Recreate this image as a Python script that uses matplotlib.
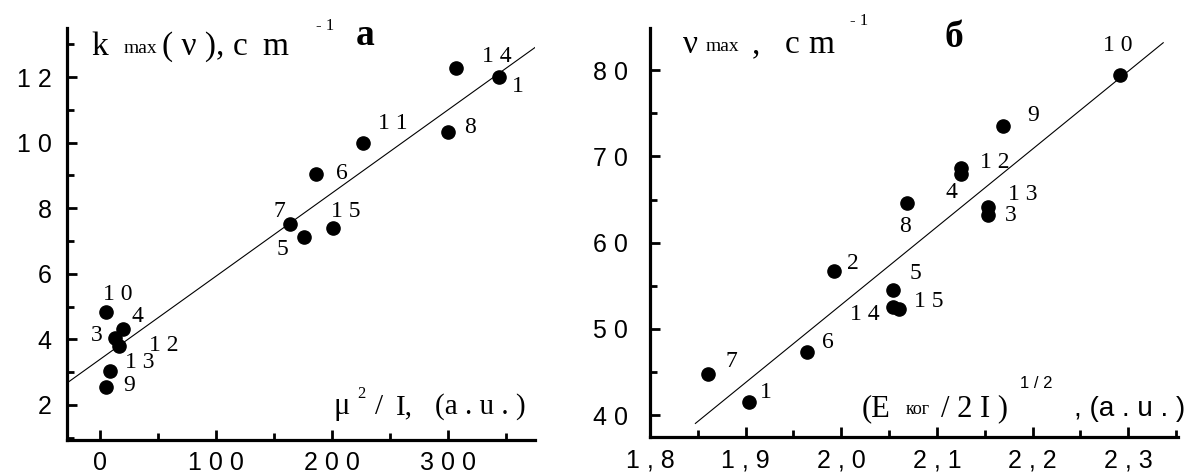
import matplotlib
matplotlib.use('Agg')
import matplotlib.pyplot as plt
from matplotlib.ticker import FixedLocator
import numpy as np

# panel a: k_max vs mu^2/I
a_ids = ['10', '4', '3', '12', '13', '9', '5', '7', '15', '6', '11', '8', '14', '1']
a_x = [6, 20, 13, 17, 9, 6, 176, 164, 201, 186, 227, 300, 307, 344]
a_y = [4.84, 4.32, 4.05, 3.80, 3.04, 2.55, 7.13, 7.53, 7.40, 9.05, 10.0, 10.34, 12.29, 12.0]
a_fit = (0.0254, 3.38)          # slope, intercept
a_fit_x = [-28, 377]

# panel б: nu_max vs (E/2I)^1/2
b_ids = ['7', '1', '6', '2', '14', '5', '15', '8', '4', '12', '13', '3', '9', '10']
b_x = [1.861, 1.904, 1.964, 1.992, 2.054, 2.054, 2.060, 2.069, 2.125, 2.125, 2.153, 2.153, 2.169, 2.291]
b_y = [44.75, 41.5, 47.3, 56.7, 52.5, 54.5, 52.3, 64.6, 68.0, 68.6, 64.1, 63.2, 73.5, 79.5]
b_fit = (90.3, -127.8)
b_fit_x = [1.847, 2.337]

# label offsets (pixels, right/up)
a_off = {'10': (11, 17), '4': (15, 12), '3': (-18, 2), '12': (44, 0), '13': (30, 8),
         '9': (23, 1), '5': (-21, -13), '7': (-11, 12), '15': (13, 16), '6': (26, 0),
         '11': (30, 19), '8': (22, 4), '14': (41, 11), '1': (19, -9)}
b_off = {'7': (23, 13), '1': (16, 10), '6': (21, 10), '2': (19, 8), '14': (-28, -7),
         '5': (22, 17), '15': (30, 7), '8': (-2, -24), '4': (-9, -19), '12': (34, 6),
         '13': (35, 13), '3': (23, 0), '9': (30, 11), '10': (-2, 29)}

SERIF = 'Liberation Serif'
SANS = 'Liberation Sans'
W, H = 1193, 473


def spaced(s):
    return ' '.join(s)


fig = plt.figure(figsize=(W / 100, H / 100), dpi=100)
ax1 = fig.add_axes([67 / W, 1 - 440 / H, (535 - 67) / W, (440 - 28) / H])
ax2 = fig.add_axes([650 / W, 1 - 437 / H, (1178 - 650) / W, (437 - 28) / H])


def style(ax):
    for s in ['top', 'right']:
        ax.spines[s].set_visible(False)
    for s in ['left', 'bottom']:
        ax.spines[s].set_linewidth(2.3)
    ax.tick_params(which='major', direction='in', length=7, width=2.0, labelsize=18)
    ax.tick_params(which='minor', direction='in', length=5, width=2.0)
    ax.patch.set_alpha(0)


def draw(ax, xs, ys, ids, offs, fit, fit_x):
    fx = np.array(fit_x)
    ax.plot(fx, fit[0] * fx + fit[1], color='black', lw=0.8, solid_capstyle='butt')
    ax.plot(xs, ys, 'o', color='black', ms=9.5, clip_on=False)
    for x, y, t in zip(xs, ys, ids):
        dx, dy = offs[t]
        ax.annotate(' '.join(t), (x, y), xytext=(dx * 0.72, dy * 0.72), textcoords='offset points',
                    ha='center', va='center', fontsize=17, family=SERIF)


# panel a
style(ax1)
draw(ax1, a_x, a_y, a_ids, a_off, a_fit, a_fit_x)
ax1.set_xlim(-28, 375)
ax1.set_ylim(0.93, 13.5)
ax1.xaxis.set_major_locator(FixedLocator([0, 100, 200, 300]))
ax1.xaxis.set_minor_locator(FixedLocator([50, 150, 250, 350]))
ax1.yaxis.set_major_locator(FixedLocator([2, 4, 6, 8, 10, 12]))
ax1.yaxis.set_minor_locator(FixedLocator([1, 3, 5, 7, 9, 11, 13]))
ax1.set_xticklabels([spaced(str(v)) for v in [0, 100, 200, 300]], family=SANS)
ax1.set_yticklabels([spaced(str(v)) for v in [2, 4, 6, 8, 10, 12]], family=SANS)
ax1.tick_params(axis='y', pad=11)
ax1.tick_params(axis='x', pad=8)

# panel б
style(ax2)
draw(ax2, b_x, b_y, b_ids, b_off, b_fit, b_fit_x)
ax2.set_xlim(1.8, 2.352)
ax2.set_ylim(37.45, 84.9)
bx_ticks = [1.8, 1.9, 2.0, 2.1, 2.2, 2.3]
ax2.xaxis.set_major_locator(FixedLocator(bx_ticks))
ax2.xaxis.set_minor_locator(FixedLocator([1.85, 1.95, 2.05, 2.15, 2.25, 2.35]))
ax2.yaxis.set_major_locator(FixedLocator([40, 50, 60, 70, 80]))
ax2.yaxis.set_minor_locator(FixedLocator([45, 55, 65, 75]))
ax2.set_xticklabels([spaced(f'{v:.1f}'.replace('.', ',')) for v in bx_ticks], family=SANS)
ax2.set_yticklabels([spaced(str(v)) for v in [40, 50, 60, 70, 80]], family=SANS)
ax2.tick_params(axis='y', pad=16)
ax2.tick_params(axis='x', pad=8)


def put(xp, yp, s, size, family=SERIF, weight='normal'):
    fig.text(xp / W, 1 - yp / H, s, fontsize=size, family=family, weight=weight,
             ha='left', va='baseline')


# axis titles, panel a
put(91, 55, 'k', 24)
put(124, 53, 'max', 14)
put(162, 55, '( ν ),', 24)
put(233, 55, 'c', 24)
put(262, 55, 'm', 24)
put(316, 30, '- 1', 12)
put(356, 45, 'а', 27, weight='bold')
put(333, 414, 'μ', 22)
put(357, 398, '2', 12)
put(375, 414, '/', 21)
put(396, 414, 'I,', 21)
put(435, 414, '(a . u . )', 21)

# axis titles, panel б
put(683, 53, 'ν', 24)
put(706, 51, 'max', 14)
put(752, 53, ',', 24)
put(785, 53, 'c', 24)
put(808, 53, 'm', 24)
put(850, 25, '- 1', 12)
put(944, 47, 'б', 27, weight='bold')
put(862, 416, '(E', 22)
put(906, 414, 'ког', 13)
put(941, 416, '/ 2 I )', 22)
put(1020, 388, '1 / 2', 12, family=SANS)
put(1074, 416, ', (a . u . )', 20, family=SANS)

fig.savefig('out.png', dpi=100)
